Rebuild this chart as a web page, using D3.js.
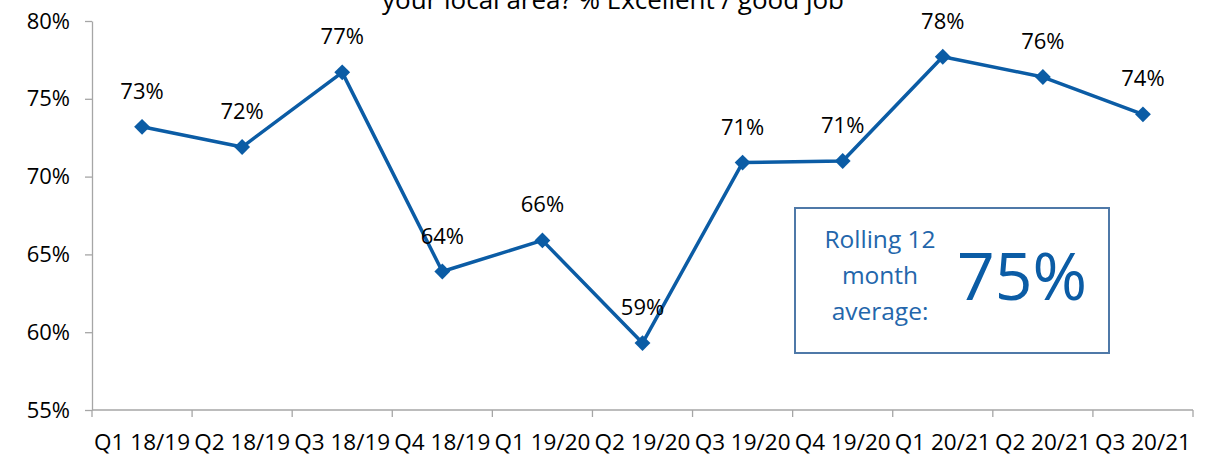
<!DOCTYPE html>
<html>
<head>
<meta charset="utf-8">
<script src="https://cdn.jsdelivr.net/npm/d3@7"></script>
<style>
  body { margin: 0; background: #fff; }
  svg { display: block; font-family: "Open Sans", sans-serif; }
</style>
</head>
<body>
<svg id="chart" width="1214" height="456"></svg>
<script>
// Data
const quarters = ["Q1 18/19", "Q2 18/19", "Q3 18/19", "Q4 18/19", "Q1 19/20", "Q2 19/20",
	"Q3 19/20", "Q4 19/20", "Q1 20/21", "Q2 20/21", "Q3 20/21"];
const values = [73.2, 71.9, 76.7, 63.9, 65.9, 59.3, 70.9, 71.0, 77.7, 76.4, 74.0];
const valueLabels = ["73%", "72%", "77%", "64%", "66%", "59%", "71%", "71%", "78%", "76%", "74%"];
const yTicks = [55, 60, 65, 70, 75, 80];
const titleText = "your local area? % Excellent / good job";
const boxLines = ["Rolling 12", "month", "average:"];
const boxValue = "75%";

const lineColor = "#0b5ca5";
const axisColor = "#a6a6a6";

const svg = d3.select("#chart");

// Scales
const x = d3.scaleBand()
	.domain(quarters)
	.range([92, 1193]);

const y = d3.scaleLinear()
	.domain([55, 80])
	.range([410, 21]);

// Title (its first line sits above the visible area in the source)
svg.append("text")
	.attr("x", 613)
	.attr("y", 9)
	.attr("text-anchor", "middle")
	.attr("font-size", 26)
	.attr("fill", "#000")
	.text(titleText);

// Y axis
const yAxis = svg.append("g")
	.attr("transform", "translate(92,0)")
	.call(d3.axisLeft(y).tickValues(yTicks).tickSize(7).tickSizeOuter(0)
		.tickFormat(function(d) { return d + "%"; }));
yAxis.select(".domain").attr("stroke", axisColor).attr("stroke-width", 1.3);
yAxis.selectAll(".tick line").attr("stroke", axisColor).attr("stroke-width", 1.3);
yAxis.selectAll(".tick text")
	.attr("x", -22)
	.attr("font-size", 22)
	.attr("font-family", "Open Sans, sans-serif")
	.attr("fill", "#000");

// X axis with ticks at band boundaries
const xAxis = svg.append("g")
	.attr("transform", "translate(0,410)");
xAxis.append("line")
	.attr("x1", x.range()[0]).attr("x2", x.range()[1])
	.attr("stroke", axisColor).attr("stroke-width", 1.3);
const bounds = quarters.map(function(q) { return x(q); }).concat([x.range()[1]]);
xAxis.selectAll("line.tick")
	.data(bounds)
	.enter()
	.append("line")
	.attr("class", "tick")
	.attr("x1", function(d) { return d; })
	.attr("x2", function(d) { return d; })
	.attr("y1", 0)
	.attr("y2", 7)
	.attr("stroke", axisColor)
	.attr("stroke-width", 1.3);
xAxis.selectAll("text")
	.data(quarters)
	.enter()
	.append("text")
	.attr("x", function(d) { return x(d) + x.bandwidth() / 2; })
	.attr("y", 40)
	.attr("text-anchor", "middle")
	.attr("font-size", 22.5)
	.attr("fill", "#000")
	.text(function(d) { return d; });

// Line
const line = d3.line()
	.x(function(d, i) { return x(quarters[i]) + x.bandwidth() / 2; })
	.y(function(d) { return y(d); });

svg.append("path")
	.datum(values)
	.attr("d", line)
	.attr("fill", "none")
	.attr("stroke", lineColor)
	.attr("stroke-width", 3.5)
	.attr("stroke-linejoin", "round");

// Markers
svg.selectAll("path.marker")
	.data(values)
	.enter()
	.append("path")
	.attr("class", "marker")
	.attr("d", d3.symbol().type(d3.symbolDiamond2).size(160))
	.attr("transform", function(d, i) {
		return "translate(" + (x(quarters[i]) + x.bandwidth() / 2) + "," + y(d) + ")";
	})
	.attr("fill", lineColor);

// Data labels
svg.selectAll("text.label")
	.data(values)
	.enter()
	.append("text")
	.attr("class", "label")
	.attr("x", function(d, i) { return x(quarters[i]) + x.bandwidth() / 2; })
	.attr("y", function(d) { return y(d) - 28; })
	.attr("text-anchor", "middle")
	.attr("font-size", 22)
	.attr("fill", "#000")
	.text(function(d, i) { return valueLabels[i]; });

// Rolling average box
const box = svg.append("g");
box.append("rect")
	.attr("x", 795)
	.attr("y", 208)
	.attr("width", 314)
	.attr("height", 145)
	.attr("fill", "#fff")
	.attr("stroke", "#4f79a8")
	.attr("stroke-width", 2);
box.selectAll("text.boxline")
	.data(boxLines)
	.enter()
	.append("text")
	.attr("class", "boxline")
	.attr("x", 880)
	.attr("y", function(d, i) { return 248 + i * 36; })
	.attr("text-anchor", "middle")
	.attr("font-size", 24.5)
	.attr("fill", "#2366ab")
	.text(function(d) { return d; });
box.append("text")
	.attr("x", 1022)
	.attr("y", 300)
	.attr("text-anchor", "middle")
	.attr("font-size", 66)
	.attr("fill", lineColor)
	.text(boxValue);
</script>
</body>
</html>
